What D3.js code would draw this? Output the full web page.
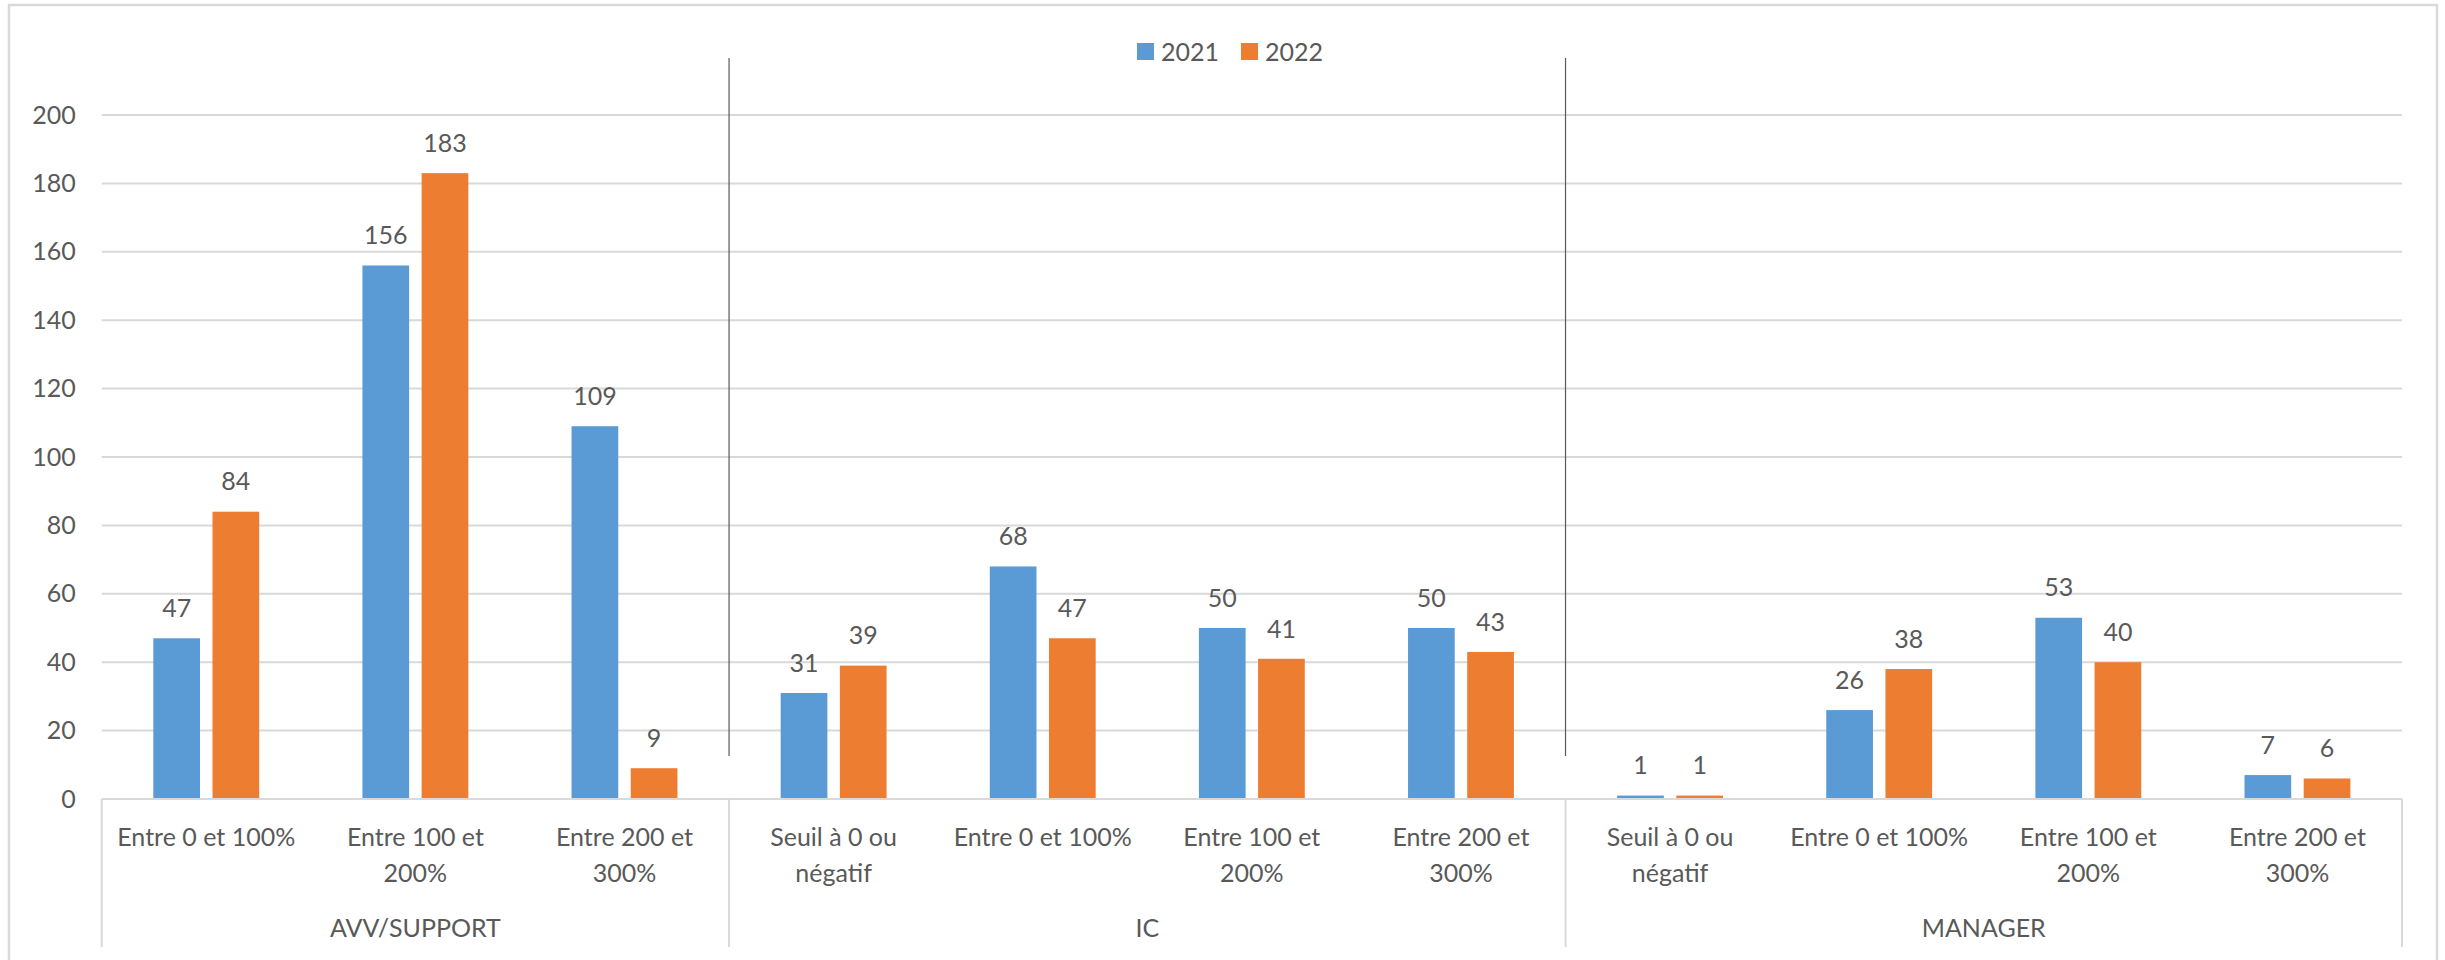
<!DOCTYPE html>
<html>
<head>
<meta charset="utf-8">
<script src="https://cdn.jsdelivr.net/npm/d3@7"></script>
<style>
  html, body { margin: 0; padding: 0; background: #fff; }
  svg { display: block; }
  text { font-family: Lato, "Open Sans", sans-serif; fill: #595959; }
</style>
</head>
<body>
<svg id="chart" width="2445" height="960"></svg>
<script>
// ---- data ----
const groups = ["AVV/SUPPORT", "IC", "MANAGER"];
const groupOf = ["AVV/SUPPORT","AVV/SUPPORT","AVV/SUPPORT","IC","IC","IC","IC","MANAGER","MANAGER","MANAGER","MANAGER"];
const categories = [
  "Entre 0 et 100%", "Entre 100 et\n200%", "Entre 200 et\n300%",
  "Seuil à 0 ou\nnégatif", "Entre 0 et 100%", "Entre 100 et\n200%", "Entre 200 et\n300%",
  "Seuil à 0 ou\nnégatif", "Entre 0 et 100%", "Entre 100 et\n200%", "Entre 200 et\n300%"
];
const seriesNames = ["2021", "2022"];
const values2021 = [47, 156, 109, 31, 68, 50, 50, 1, 26, 53, 7];
const values2022 = [84, 183, 9, 39, 47, 41, 43, 1, 38, 40, 6];
const yTicks = [0, 20, 40, 60, 80, 100, 120, 140, 160, 180, 200];
const colors = ["#5b9bd5", "#ed7d31"];

// ---- layout ----
const W = 2445, H = 960;
const plotL = 101.7, plotR = 2402, y0 = 799, yTop = 115;
const svg = d3.select("#chart");

// outer border
svg.append("rect").attr("x", 9).attr("y", 5).attr("width", 2428).attr("height", 1000)
  .attr("fill", "#fff").attr("stroke", "#d9d9d9").attr("stroke-width", 2.5);

const keys = categories.map((c, i) => i);
const x = d3.scaleBand().domain(keys).range([plotL, plotR]).padding(0);
const xInner = d3.scaleBand().domain(seriesNames).range([0, x.bandwidth()])
  .paddingInner(0.211).paddingOuter(0.872);
const y = d3.scaleLinear().domain([0, 200]).range([y0, yTop]);

// gridlines
svg.append("g").selectAll("line").data(yTicks.filter(t => t > 0)).join("line")
  .attr("x1", plotL).attr("x2", plotR)
  .attr("y1", d => y(d)).attr("y2", d => y(d))
  .attr("stroke", "#d9d9d9").attr("stroke-width", 2);

// y axis labels
const yAxis = d3.axisLeft(y).tickValues(yTicks).tickSize(0).tickPadding(0);
const ya = svg.append("g").attr("transform", `translate(${plotL - 26},0)`).call(yAxis);
ya.select(".domain").remove();
ya.selectAll("text").attr("font-size", 25).attr("fill", "#595959")
  .style("font-family", "Lato, sans-serif");

// bars
const data = keys.map(i => ({ i, vals: [values2021[i], values2022[i]] }));
const cat = svg.append("g").selectAll("g").data(data).join("g")
  .attr("transform", d => `translate(${x(d.i)},0)`);
cat.selectAll("rect").data(d => d.vals.map((v, k) => ({ v, k }))).join("rect")
  .attr("x", d => xInner(seriesNames[d.k]))
  .attr("width", xInner.bandwidth())
  .attr("y", d => y(d.v))
  .attr("height", d => y(0) - y(d.v))
  .attr("fill", d => colors[d.k]);
cat.selectAll("text").data(d => d.vals.map((v, k) => ({ v, k }))).join("text")
  .attr("x", d => xInner(seriesNames[d.k]) + xInner.bandwidth() / 2)
  .attr("y", d => y(d.v) - 30)
  .attr("dy", "0.35em")
  .attr("text-anchor", "middle")
  .attr("font-size", 25)
  .text(d => d.v);

// category axis line
svg.append("line").attr("x1", plotL).attr("x2", plotR).attr("y1", y0).attr("y2", y0)
  .attr("stroke", "#d9d9d9").attr("stroke-width", 2);

// group boundaries
const groupBounds = [];
groups.forEach(g => {
  const idx = keys.filter(i => groupOf[i] === g);
  groupBounds.push({ g, x0: x(idx[0]), x1: x(idx[idx.length - 1]) + x.bandwidth() });
});
const sepXs = [groupBounds[0].x0, ...groupBounds.map(b => b.x1)];
svg.append("g").selectAll("line").data(sepXs).join("line")
  .attr("x1", d => d).attr("x2", d => d).attr("y1", y0).attr("y2", 947)
  .attr("stroke", "#d9d9d9").attr("stroke-width", 2);

// dark vertical divider lines inside plot
svg.append("g").selectAll("line").data(groupBounds.slice(0, 2).map(b => b.x1)).join("line")
  .attr("x1", d => d).attr("x2", d => d).attr("y1", 58).attr("y2", 756)
  .attr("stroke", "#595959").attr("stroke-width", 1.2);

// category labels
const catLab = svg.append("g").selectAll("text").data(keys).join("text")
  .attr("x", i => x(i) + x.bandwidth() / 2)
  .attr("y", 837)
  .attr("text-anchor", "middle")
  .attr("font-size", 25);
catLab.selectAll("tspan").data(i => categories[i].split("\n")).join("tspan")
  .attr("x", function() { return d3.select(this.parentNode).attr("x"); })
  .attr("dy", (d, j) => j === 0 ? "0.35em" : 36)
  .text(d => d);

// group labels
svg.append("g").selectAll("text").data(groupBounds).join("text")
  .attr("x", b => (b.x0 + b.x1) / 2).attr("y", 928).attr("dy", "0.35em")
  .attr("text-anchor", "middle").attr("font-size", 25)
  .text(b => b.g);

// legend
const legendX = [1137, 1241];
const leg = svg.append("g").selectAll("g").data(seriesNames).join("g")
  .attr("transform", (d, k) => `translate(${legendX[k]},43)`);
leg.append("rect").attr("width", 17).attr("height", 17).attr("fill", (d, k) => colors[k]);
leg.append("text").attr("x", 24).attr("y", 9).attr("dy", "0.35em")
  .attr("font-size", 25).text(d => d);
</script>
</body>
</html>
